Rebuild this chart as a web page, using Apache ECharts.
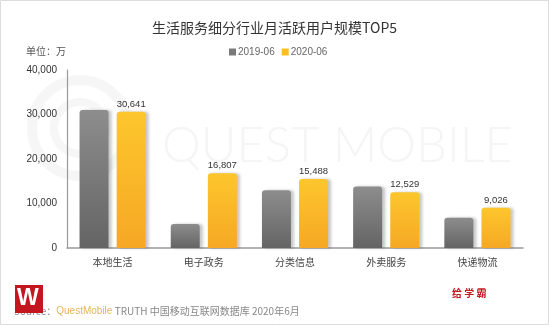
<!DOCTYPE html>
<html>
<head>
<meta charset="utf-8">
<script src="https://cdn.jsdelivr.net/npm/echarts@6/dist/echarts.min.js"></script>
<style>
html,body{margin:0;padding:0;background:#fff;}
#c{width:549px;height:325px;}
</style>
</head>
<body>
<div id="c"></div>
<script>
var categories = ['本地生活', '电子政务', '分类信息', '外卖服务', '快递物流'];
var seriesNames = ['2019-06', '2020-06'];
var values2019 = [31000, 5400, 13000, 13800, 6800];
var values2020 = [30641, 16807, 15488, 12529, 9026];
var yMin = 0, yMax = 40000, yInterval = 10000;

function fmt(n) {
  return String(Math.round(n)).replace(/\B(?=(\d{3})+(?!\d))/g, ',');
}
var NUM = "'Liberation Sans','Noto Sans CJK SC',sans-serif";
var CJK = "'Noto Sans CJK SC',sans-serif";

var chart = echarts.init(document.getElementById('c'), null, {renderer: 'canvas'});
var grayGrad = new echarts.graphic.LinearGradient(0, 0, 0, 1, [
  {offset: 0, color: '#8d8d8d'}, {offset: 1, color: '#646464'}
]);
var orangeGrad = new echarts.graphic.LinearGradient(0, 0, 0, 1, [
  {offset: 0, color: '#fdc62d'}, {offset: 1, color: '#f6a824'}
]);
var shadow = {shadowColor: 'rgba(0,0,0,0.22)', shadowBlur: 3, shadowOffsetX: 3, shadowOffsetY: 0};

chart.setOption({
  backgroundColor: '#fff',
  animation: false,
  title: {
    text: '生活服务细分行业月活跃用户规模TOP5',
    left: 'center', top: 21, padding: 0,
    textStyle: {fontSize: 14, fontWeight: 'normal', color: '#333', fontFamily: CJK}
  },
  legend: {
    left: 229, top: 47, padding: 0,
    itemWidth: 7, itemHeight: 7, itemGap: 7, icon: 'rect',
    textStyle: {fontSize: 10, color: '#666', fontFamily: NUM, padding: [0, 0, 0, -3]},
    data: [
      {name: seriesNames[0], itemStyle: {color: '#7a7a7a'}},
      {name: seriesNames[1], itemStyle: {color: '#fbbd26'}}
    ]
  },
  grid: {left: 67, right: 26, top: 70, bottom: 77},
  xAxis: {
    type: 'category', data: categories,
    axisLine: {lineStyle: {color: '#9a9a9a', width: 1.5}},
    axisTick: {show: false},
    axisLabel: {fontSize: 10, color: '#444', margin: 9, fontFamily: CJK}
  },
  yAxis: {
    type: 'value', min: yMin, max: yMax, interval: yInterval,
    axisLine: {show: true, lineStyle: {color: '#9a9a9a', width: 1.2}},
    axisTick: {show: false},
    splitLine: {show: false},
    axisLabel: {fontSize: 10, color: '#333', margin: 10, fontFamily: NUM, formatter: fmt}
  },
  graphic: [
    {type: 'rect', z: -10, silent: true, shape: {x: 0.5, y: 0.5, width: 548, height: 324},
     style: {fill: 'none', stroke: '#dcdcdc', lineWidth: 1}},
    {type: 'circle', z: -5, silent: true, shape: {cx: 80, cy: 128, r: 48},
     style: {fill: 'none', stroke: '#f6f6f6', lineWidth: 10}},
    {type: 'circle', z: -5, silent: true, shape: {cx: 80, cy: 128, r: 26},
     style: {fill: 'none', stroke: '#f6f6f6', lineWidth: 8}},
    {type: 'text', z: -5, silent: true, left: 162, top: 122,
     style: {text: 'QUEST MOBILE', fontSize: 49, fill: '#f5f5f5', fontFamily: "'Lato','Open Sans',sans-serif", fontWeight: 300}},
    {type: 'text', left: 26, top: 46,
     style: {text: '单位：万', fontSize: 10, fill: '#555', fontFamily: CJK}},
    {type: 'text', left: 14, top: 306,
     style: {
       text: '{a|Source：}{b|QuestMobile}{a| TRUTH 中国移动互联网数据库 2020年6月}',
       rich: {
         a: {fontSize: 10, fill: '#888', fontFamily: CJK},
         b: {fontSize: 10, fill: '#e3b65a', fontFamily: NUM}
       }
     }},
    {type: 'rect', z: 10, shape: {x: 15, y: 285, width: 28, height: 28},
     style: {fill: '#c3161f'}},
    {type: 'text', z: 11, left: 17, top: 287,
     style: {text: 'W', fontSize: 23, fontWeight: 'bold', fill: '#fff', fontFamily: NUM}},
    {type: 'text', left: 452, top: 288,
     style: {text: '给 学 霸', fontSize: 10, fontWeight: 'bold', fill: '#c3161f', fontFamily: CJK}}
  ],
  series: [
    {
      name: seriesNames[0], type: 'bar', data: values2019,
      barWidth: 29, barGap: '28%',
      itemStyle: Object.assign({color: grayGrad, borderRadius: [3, 3, 0, 0]}, shadow)
    },
    {
      name: seriesNames[1], type: 'bar', data: values2020,
      barWidth: 29,
      itemStyle: Object.assign({color: orangeGrad, borderRadius: [3, 3, 0, 0]}, shadow),
      label: {show: true, position: 'top', distance: 3, fontSize: 9.5, color: '#333',
              fontFamily: NUM, formatter: function (p) { return fmt(p.value); }}
    }
  ]
});
</script>
</body>
</html>
